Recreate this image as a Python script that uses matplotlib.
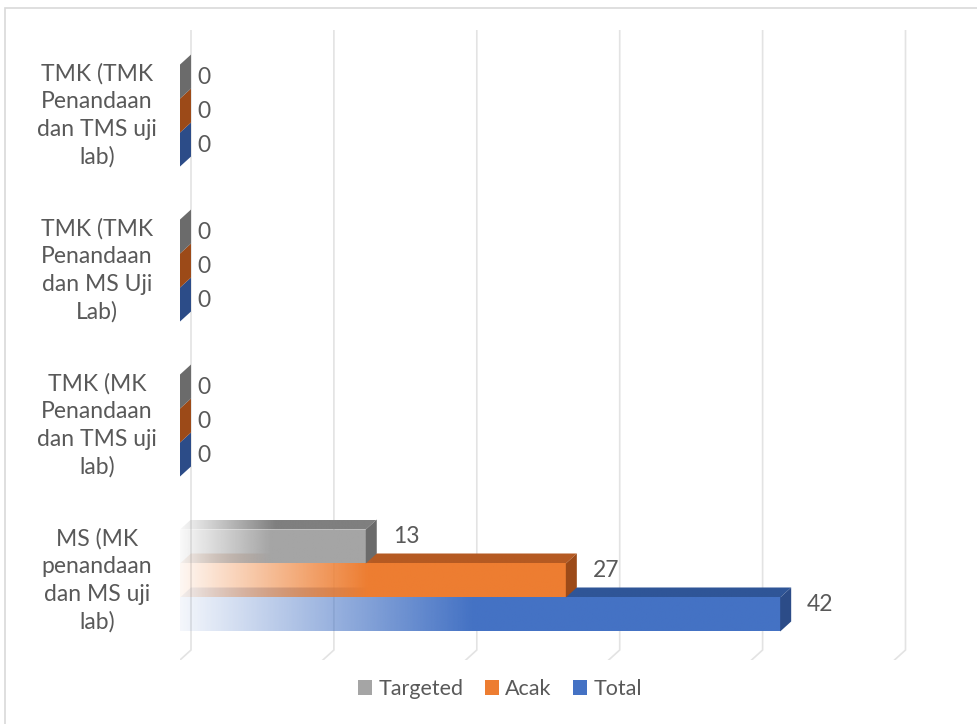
"""3D-style clustered horizontal bar chart: MS / TMK sampling results."""

import numpy as np
import matplotlib
matplotlib.use("Agg")
import matplotlib.pyplot as plt
from matplotlib.patches import Polygon, Patch, Rectangle
from matplotlib.colors import to_rgb

# categories listed bottom -> top
categories = [
    "MS (MK\npenandaan\ndan MS uji\nlab)",
    "TMK (MK\nPenandaan\ndan TMS uji\nlab)",
    "TMK (TMK\nPenandaan\ndan MS Uji\nLab)",
    "TMK (TMK\nPenandaan\ndan TMS uji\nlab)",
]
series = ["Targeted", "Acak", "Total"]
targeted = [13, 0, 0, 0]
acak = [27, 0, 0, 0]
total = [42, 0, 0, 0]
values = [targeted, acak, total]

front_colors = ["#a5a5a5", "#ed7d31", "#4472c4"]
top_colors = ["#7f7f7f", "#b55a22", "#2f5597"]
side_colors = ["#6b6b6b", "#9c4a18", "#2c4c88"]

TEXT = "#595959"
plt.rcParams["font.family"] = ["Lato", "DejaVu Sans"]

W, H = 977, 724
fig = plt.figure(figsize=(W / 100, H / 100), dpi=100)

# axes placed in pixel terms: x=0 front plane at px 180, 14.29 px per unit
x0_px, ppu = 180, 14.29
xmax = 52
ax = fig.add_axes([x0_px / W, (H - 660) / H, xmax * ppu / W, 630 / H])
ax.set_xlim(0, xmax)
ax.set_ylim(-0.513, 3.552)
ax.axis("off")

dx = 11 / ppu          # depth offset in x (data units)
dy = 10 / 155          # depth offset in y (data units)
bar_h = 34 / 155
floor = -0.513

# gridlines on the back wall, with a short diagonal onto the floor
for g in range(0, 51, 10):
    ax.plot([g + dx, g + dx, g], [3.552, floor + dy, floor],
            color="#e3e3e3", lw=1.2, zorder=0, solid_joinstyle="miter")


def gradient_fill(ax, patch, rgb, x_end, ybox, zorder):
    n = 256
    a = np.clip(np.linspace(0.06, 2.0, n), 0, 1)
    img = np.zeros((1, n, 4))
    img[..., :3] = rgb
    img[..., 3] = a
    im = ax.imshow(img, extent=[0, x_end, ybox[0], ybox[1]], aspect="auto",
                   interpolation="bilinear", zorder=zorder)
    im.set_clip_path(patch)


offsets = [bar_h, 0, -bar_h]
for s in [2, 1, 0]:          # draw front-most (bottom) bar first
    for i, v in enumerate(values[s]):
        c = i + offsets[s]
        yb, yt = c - bar_h / 2, c + bar_h / 2
        z = 2 + (2 - s) * 0.1 + i
        if v > 0:
            top = Polygon([(0, yt), (v, yt), (v + dx, yt + dy), (dx, yt + dy)],
                          closed=True, fc="none", ec="none")
            ax.add_patch(top)
            gradient_fill(ax, top, to_rgb(top_colors[s]), v + dx, (yt, yt + dy), z)
            front = Rectangle((0, yb), v, bar_h, fc="none", ec="none")
            ax.add_patch(front)
            gradient_fill(ax, front, to_rgb(front_colors[s]), v, (yb, yt), z + 0.01)
        side = Polygon([(v, yb), (v, yt), (v + dx, yt + dy), (v + dx, yb + dy)],
                       closed=True, fc=side_colors[s], ec="none", zorder=z + 0.02)
        ax.add_patch(side)
        ax.annotate(str(v), (v + dx, c + dy * (1.0 if v > 0 else 0.4)),
                    xytext=(6 if v == 0 else 16, 0), textcoords="offset pixels",
                    ha="left", va="center", fontsize=16.5, color=TEXT, zorder=10)

for i, lab in enumerate(categories):
    ax.text(-5.8, i, lab, ha="center", va="center", fontsize=16.5,
            color=TEXT, linespacing=1.38)

handles = [Patch(fc=front_colors[k], ec="none") for k in range(3)]
fig.legend(handles, series, loc="center", bbox_to_anchor=(500 / W, 1 - 689 / H),
           ncol=3, frameon=False, fontsize=15.5, labelcolor=TEXT,
           handlelength=0.65, handleheight=0.65, handletextpad=0.3,
           columnspacing=1.0)

# chart-area border (right/bottom edges fall outside the image)
fig.patches.append(Rectangle((5 / W, -0.05), 1.1, 1 - 8 / H + 0.05,
                             transform=fig.transFigure, fc="none",
                             ec="#d9d9d9", lw=1.2))

fig.savefig("out.png", dpi=100)
